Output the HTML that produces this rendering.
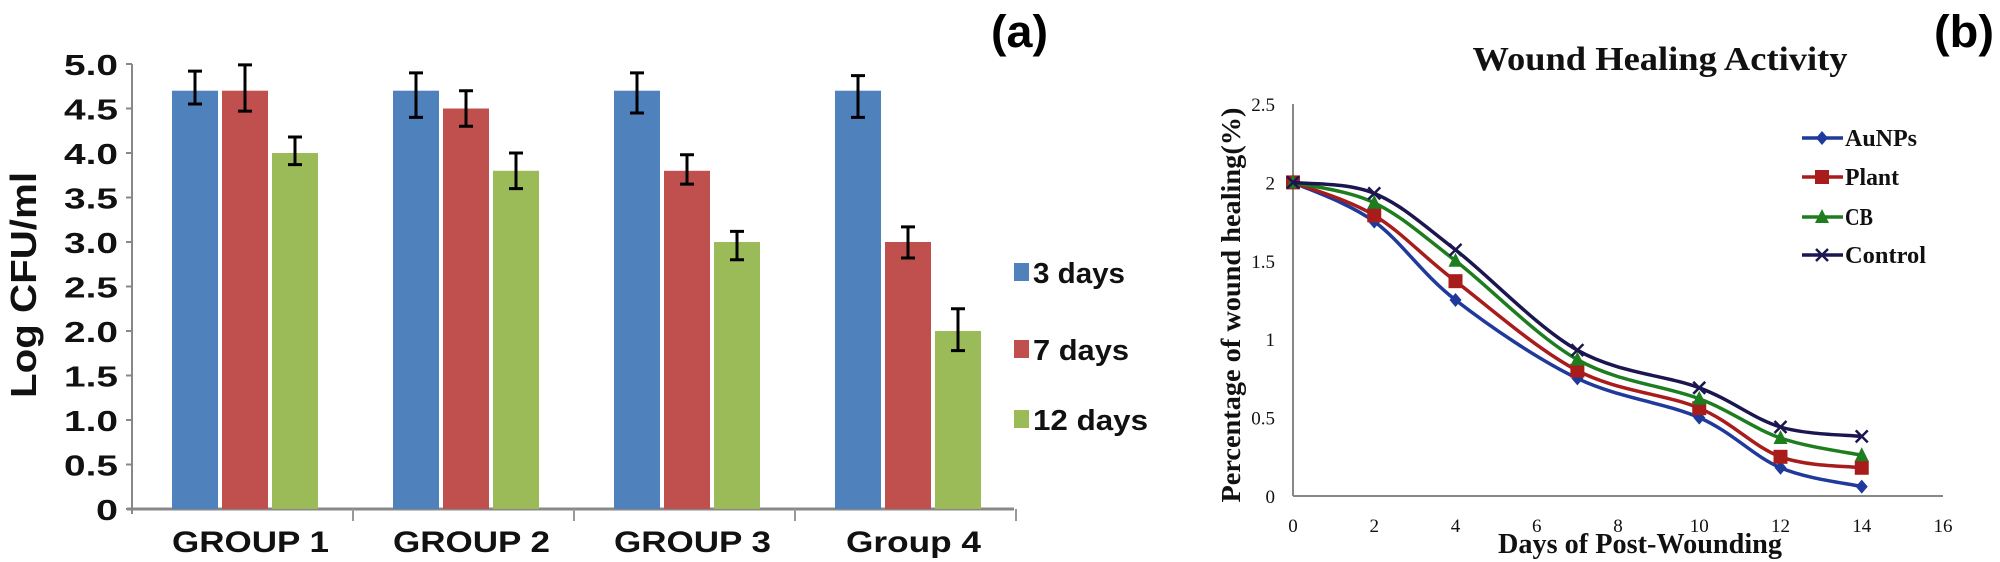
<!DOCTYPE html>
<html><head><meta charset="utf-8"><style>
html,body{margin:0;padding:0;background:#fff;width:2000px;height:562px;overflow:hidden}
svg{display:block}
</style></head><body>
<svg id="fig" width="2000" height="562" xmlns="http://www.w3.org/2000/svg">
<text x="991" y="47" font-family="Liberation Sans, sans-serif" font-weight="bold" font-size="45" textLength="57" lengthAdjust="spacingAndGlyphs">(a)</text>
<text x="1934" y="47" font-family="Liberation Sans, sans-serif" font-weight="bold" font-size="45" textLength="60" lengthAdjust="spacingAndGlyphs">(b)</text>
<g id="ca"></g>
<g id="cb"></g>
</svg>
<script>
const NS='http://www.w3.org/2000/svg';
// ---- chart a data
const groups=['GROUP 1','GROUP 2','GROUP 3','Group 4'];
const seriesNames=['3 days','7 days','12 days'];
const d3=[4.7,4.7,4.7,4.7];
const d7=[4.7,4.5,3.8,3.0];
const d12=[4.0,3.8,3.0,2.0];
const lo3=[4.55,4.4,4.45,4.4];
const hi3=[4.92,4.9,4.9,4.87];
const lo7=[4.47,4.3,3.65,2.82];
const hi7=[4.99,4.7,3.98,3.17];
const lo12=[3.87,3.6,2.8,1.78];
const hi12=[4.18,4.0,3.12,2.25];
const yTicksA=[0,0.5,1.0,1.5,2.0,2.5,3.0,3.5,4.0,4.5,5.0];
// ---- chart b data
const days=[0,2,4,7,10,12,14];
const aunps=[2,1.75,1.25,0.75,0.5,0.18,0.06];
const plant=[2,1.79,1.37,0.8,0.56,0.25,0.18];
const cbv=[2,1.87,1.5,0.87,0.62,0.37,0.26];
const control=[2,1.93,1.57,0.93,0.69,0.44,0.38];
const lineNames=['AuNPs','Plant','CB','Control'];
const xTicksB=[0,2,4,6,8,10,12,14,16];
const yTicksB=[0,0.5,1,1.5,2,2.5];

function mk(tag,attrs,parent,text){const e=document.createElementNS(NS,tag);for(const k in attrs)e.setAttribute(k,attrs[k]);if(text!==undefined)e.textContent=text;parent.appendChild(e);return e;}

// ===== Chart A
const A=document.getElementById('ca');
const ax0=132,ay0=509,ayTop=64,catW=221;
const yA=v=>ay0-(v/5)*(ay0-ayTop);
const fontA='Liberation Sans, Arial, sans-serif';
let e=mk('line',{x1:ax0,y1:ayTop,x2:ax0,y2:ay0+5,stroke:'#888','stroke-width':2},A);

e=mk('line',{x1:ax0-5,y1:ay0,x2:1014,y2:ay0,stroke:'#888','stroke-width':3},A);

yTicksA.forEach(v=>{
  const t=mk('line',{x1:ax0-6,y1:yA(v),x2:ax0,y2:yA(v),stroke:'#888','stroke-width':2},A);
  
  const lbl=v===0?'0':v.toFixed(1);
  const l=mk('text',{x:ax0-14,y:yA(v)+11,'text-anchor':'end','font-family':fontA,'font-weight':'bold','font-size':29,fill:'#111',textLength:lbl.length>1?54:22,lengthAdjust:'spacingAndGlyphs'},A,lbl);
  
});
for(let i=1;i<=4;i++){const t=mk('line',{x1:ax0+catW*i,y1:ay0,x2:ax0+catW*i,y2:ay0+12,stroke:'#999','stroke-width':2},A);
}
const t=mk('text',{x:0,y:0,transform:'translate(36,285) rotate(-90)','text-anchor':'middle','font-family':fontA,'font-weight':'bold','font-size':36,fill:'#111',textLength:226,lengthAdjust:'spacingAndGlyphs'},A,'Log CFU/ml');

const cols=['#4f81bd','#c0504d','#9bbb59'];
const vals=[d3,d7,d12],los=[lo3,lo7,lo12],his=[hi3,hi7,hi12];
groups.forEach((g,i)=>{
  const gx=ax0+catW*i;
  for(let s=0;s<3;s++){
    const x=gx+40+s*50,v=vals[s][i];
    const b=mk('rect',{x:x,y:yA(v),width:46,height:ay0-yA(v),fill:cols[s]},A);
    
    const cx=x+23;
    const eb=mk('path',{d:`M${cx},${yA(his[s][i])}V${yA(los[s][i])}M${cx-7},${yA(his[s][i])}H${cx+7}M${cx-7},${yA(los[s][i])}H${cx+7}`,stroke:'#000','stroke-width':3,fill:'none'},A);
    
  }
  const l=mk('text',{x:gx+catW/2+8,y:552,'text-anchor':'middle','font-family':fontA,'font-weight':'bold','font-size':30,fill:'#111',textLength:i===3?135:157,lengthAdjust:'spacingAndGlyphs'},A,g);
  
});
const legY=[272,349,419];
const legW=[92,96,115];
seriesNames.forEach((n,s)=>{
  const r=mk('rect',{x:1014,y:legY[s]-9,width:15,height:18,fill:cols[s]},A);
  
  const l=mk('text',{x:1033,y:legY[s]+11,'font-family':fontA,'font-weight':'bold','font-size':29,fill:'#111',textLength:legW[s],lengthAdjust:'spacingAndGlyphs'},A,n);
  
});

// ===== Chart B
const B=document.getElementById('cb');
const bx0=1293,bx1=1943,by0=496,byTop=104;
const xB=d=>bx0+d/16*(bx1-bx0);
const yB=v=>by0-v/2.5*(by0-byTop);
const fontB='Liberation Serif, serif';
e=mk('line',{x1:bx0,y1:byTop,x2:bx0,y2:by0,stroke:'#888','stroke-width':2},B);

e=mk('line',{x1:bx0,y1:by0,x2:bx1,y2:by0,stroke:'#888','stroke-width':2},B);

yTicksB.forEach(v=>{const l=mk('text',{x:bx0-18,y:yB(v)+7,'text-anchor':'end','font-family':fontB,'font-size':19,fill:'#111'},B,String(v));
});
xTicksB.forEach(v=>{const l=mk('text',{x:xB(v),y:532,'text-anchor':'middle','font-family':fontB,'font-size':19,fill:'#111'},B,String(v));
});
e=mk('text',{x:1660,y:70,'text-anchor':'middle','font-family':fontB,'font-weight':'bold','font-size':34,fill:'#111',textLength:375,lengthAdjust:'spacingAndGlyphs'},B,'Wound Healing Activity');

e=mk('text',{x:1640,y:553,'text-anchor':'middle','font-family':fontB,'font-weight':'bold','font-size':28,fill:'#111',textLength:284,lengthAdjust:'spacingAndGlyphs'},B,'Days of Post-Wounding');

e=mk('text',{x:0,y:0,transform:'translate(1240,305) rotate(-90)','text-anchor':'middle','font-family':fontB,'font-weight':'bold','font-size':27,fill:'#111',textLength:395,lengthAdjust:'spacingAndGlyphs'},B,'Percentage of wound healing(%)');

const lc=['#1f3a9a','#a81c1c','#1e7d1e','#1c1650'];
const series=[aunps,plant,cbv,control];
function smooth(p){let d=`M${p[0][0]},${p[0][1]}`;for(let i=0;i<p.length-1;i++){const p0=p[i-1]||p[i],p1=p[i],p2=p[i+1],p3=p[i+2]||p2;
 d+=` C${p1[0]+(p2[0]-p0[0])/6},${p1[1]+(p2[1]-p0[1])/6} ${p2[0]-(p3[0]-p1[0])/6},${p2[1]-(p3[1]-p1[1])/6} ${p2[0]},${p2[1]}`;}return d;}
function marker(k,x,y,col,g){
  let m;
  if(k===0)m=mk('path',{d:`M${x},${y-7}L${x+6},${y}L${x},${y+7}L${x-6},${y}Z`,fill:col},g);
  else if(k===1)m=mk('rect',{x:x-7,y:y-7,width:14,height:14,fill:col},g);
  else if(k===2)m=mk('path',{d:`M${x},${y-8}L${x+7},${y+6}L${x-7},${y+6}Z`,fill:col},g);
  else m=mk('path',{d:`M${x-6},${y-6}L${x+6},${y+6}M${x-6},${y+6}L${x+6},${y-6}`,stroke:col,'stroke-width':2.5},g);
  return m;
}
series.forEach((s,k)=>{
  const pts=days.map((d,i)=>[xB(d),yB(s[i])]);
  const p=mk('path',{d:smooth(pts),fill:'none',stroke:lc[k],'stroke-width':3.5},B);
  
  pts.forEach(q=>{const m=marker(k,q[0],q[1],lc[k],B);
    });
});
const legYB=[138,177,217,255];
const legWB=[72,54,28,81];
lineNames.forEach((n,k)=>{
  const l=mk('line',{x1:1802,y1:legYB[k],x2:1843,y2:legYB[k],stroke:lc[k],'stroke-width':3.5},B);
  
  const m=marker(k,1822,legYB[k],lc[k],B);
  
  const tx=mk('text',{x:1845,y:legYB[k]+8,'font-family':fontB,'font-weight':'bold','font-size':24,fill:'#111',textLength:legWB[k],lengthAdjust:'spacingAndGlyphs'},B,n);
  
});
</script>
</body></html>
